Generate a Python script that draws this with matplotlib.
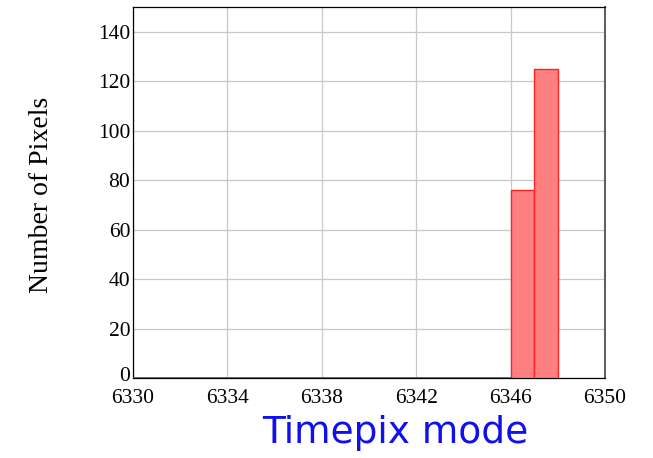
import numpy as np
import matplotlib.pyplot as plt
import matplotlib.transforms as mtransforms

# histogram data: 1-unit bins starting at 6330
bin_edges = list(range(6330, 6349))
counts = [0] * 16 + [76, 125]

x_ticks = [6330, 6334, 6338, 6342, 6346, 6350]
y_ticks = [0, 20, 40, 60, 80, 100, 120, 140]

plt.rcParams['font.family'] = ['Liberation Serif', 'DejaVu Serif']

fig = plt.figure(figsize=(6.53, 4.58), dpi=100)
ax = fig.add_axes([0.2037, 0.1747, 0.7228, 0.81])

ax.hist(bin_edges[:-1], bins=bin_edges, weights=counts,
        color='#ff8080', edgecolor='#ff2020', linewidth=1.0, zorder=3)
ax.hlines(0, bin_edges[0], bin_edges[-3], color='#e02020', linewidth=1.2, zorder=4)

ax.set_xlim(6330, 6350)
ax.set_ylim(0, 150)
ax.set_xticks(x_ticks)
ax.set_yticks(y_ticks)
ax.grid(True, color='#c8c8c8', linewidth=0.9, zorder=0)
ax.set_axisbelow(True)
ax.tick_params(length=0, labelsize=15.5, pad=2)
ax.tick_params(axis='x', pad=8)

# nudge the "0" label up a little so it doesn't sit on top of 6330
zero_lbl = ax.get_yticklabels()[0]
zero_lbl.set_transform(zero_lbl.get_transform() +
                       mtransforms.ScaledTranslation(0, 3 / 72, fig.dpi_scale_trans))

for s in ['left', 'bottom', 'top']:
    ax.spines[s].set_color('black')
    ax.spines[s].set_linewidth(0.9)
ax.spines['right'].set_color('#606060')
ax.spines['right'].set_linewidth(1.5)

fig.text(0.063, 0.575, 'Number of Pixels', rotation=90, ha='center', va='center',
         fontsize=20)
fig.text(0.605, 0.055, 'Timepix mode', ha='center', va='center',
         fontsize=27, color='#1010ee', family=['DejaVu Sans'])

fig.savefig('out.png', dpi=100)
